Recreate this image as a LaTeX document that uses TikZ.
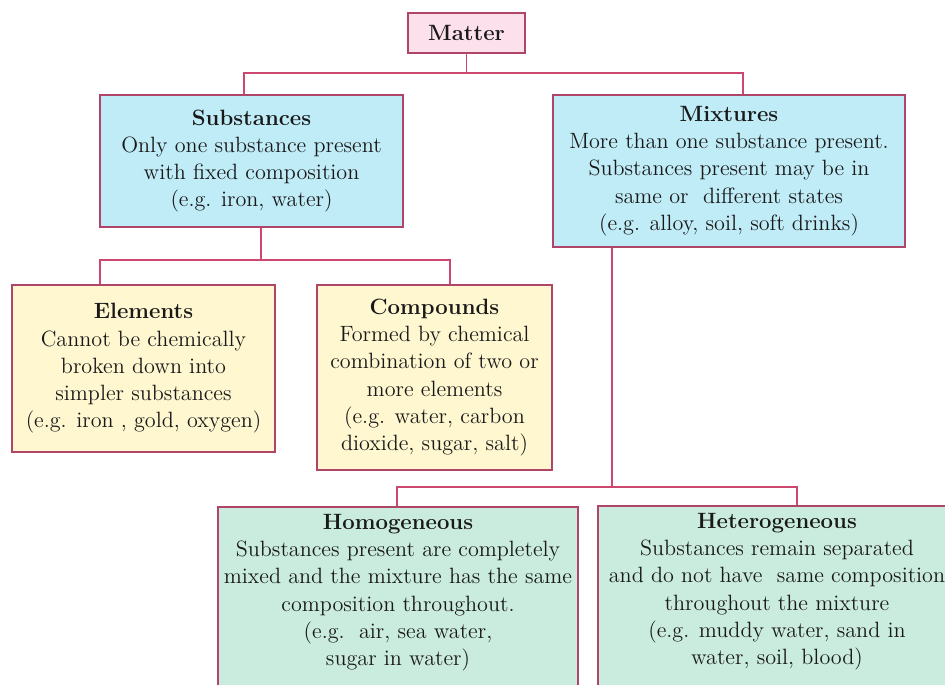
\documentclass[tikz,border=0pt]{standalone}
\usepackage{xcolor}
\definecolor{ColLine}{RGB}{205,72,112}
\definecolor{ColBorder}{RGB}{175,70,105}
\definecolor{ColTop}{RGB}{252,224,235}
\definecolor{ColBlue}{RGB}{192,236,247}
\definecolor{ColYellow}{RGB}{255,247,208}
\definecolor{ColGreen}{RGB}{202,236,222}
\tikzstyle{Box}=[draw=ColBorder,line width=0.8pt,align=center,inner sep=0pt,
text=black!90,font=\fontsize{12.6}{15.5}\selectfont]
\tikzstyle{TopBox}=[Box,fill=ColTop]
\tikzstyle{BlueBox}=[Box,fill=ColBlue]
\tikzstyle{YellowBox}=[Box,fill=ColYellow]
\tikzstyle{GreenBox}=[Box,fill=ColGreen]
\tikzstyle{Edge}=[draw=ColLine,line width=0.8pt]

\begin{document}
\begin{tikzpicture}[x=0.02cm,y=-0.02cm]
        \useasboundingbox(0,0)rectangle(945,684);
        \clip(0,0)rectangle(945,684);
        \node[TopBox,minimum width=2.34cm,minimum height=0.8cm](matter)
            at(466.5,33){\textbf{Matter}};
        \node[BlueBox,minimum width=6.06cm,minimum height=2.64cm](subst)
            at(251.5,161){\textbf{Substances}\\Only one substance present\\
            with fixed composition\\(e.g. iron, water)};
        \node[BlueBox,minimum width=7.04cm,minimum height=3.04cm](mixt)
            at(729,171){\textbf{Mixtures}\\More than one substance present.\\
            Substances present may be in\\same or\ \ different states\\
            (e.g. alloy, soil, soft drinks)};
        \node[YellowBox,minimum width=5.26cm,minimum height=3.34cm](elem)
            at(143.5,368.5){\textbf{Elements}\\Cannot be chemically\\
            broken down into\\simpler substances\\(e.g. iron , gold, oxygen)};
        \node[YellowBox,minimum width=4.7cm,minimum height=3.7cm](comp)
            at(434.5,377.5){\textbf{Compounds}\\Formed by chemical\\
            combination of two or\\more elements\\(e.g. water, carbon\\
            dioxide, sugar, salt)};
        \node[GreenBox,minimum width=7.2cm,minimum height=3.86cm](homo)
            at(398,603.5){\textbf{Homogeneous}\\Substances present are completely\\
            mixed and the mixture has the same\\composition throughout.\\
            (e.g.\ \ air, sea water,\\sugar in water)\\\mbox{}};
        \node[GreenBox,minimum width=7.16cm,minimum height=3.86cm](hetero)
            at(777,602.5){\textbf{Heterogeneous}\\Substances remain separated\\
            and do not have\ \ same composition\\throughout the mixture\\
            (e.g. muddy water, sand in\\water, soil, blood)\\\mbox{}};
        \coordinate(l1)at(244,73);
        \coordinate(r1)at(743,73);
        \coordinate(l2)at(100,260);
        \coordinate(r2)at(450,260);
        \coordinate(l3)at(397,487);
        \coordinate(r3)at(797,487);
        \draw[Edge](matter.south)--(matter.south|-l1);
        \draw[Edge](subst.north-|l1)--(l1)--(r1)--(mixt.north-|r1);
        \draw[Edge](subst.south-|261,0)--(261,260);
        \draw[Edge](elem.north-|l2)--(l2)--(r2)--(comp.north-|r2);
        \draw[Edge](mixt.south-|612,0)--(612,487);
        \draw[Edge](homo.north-|l3)--(l3)--(r3)--(hetero.north-|r3);
    \end{tikzpicture}
\end{document}
